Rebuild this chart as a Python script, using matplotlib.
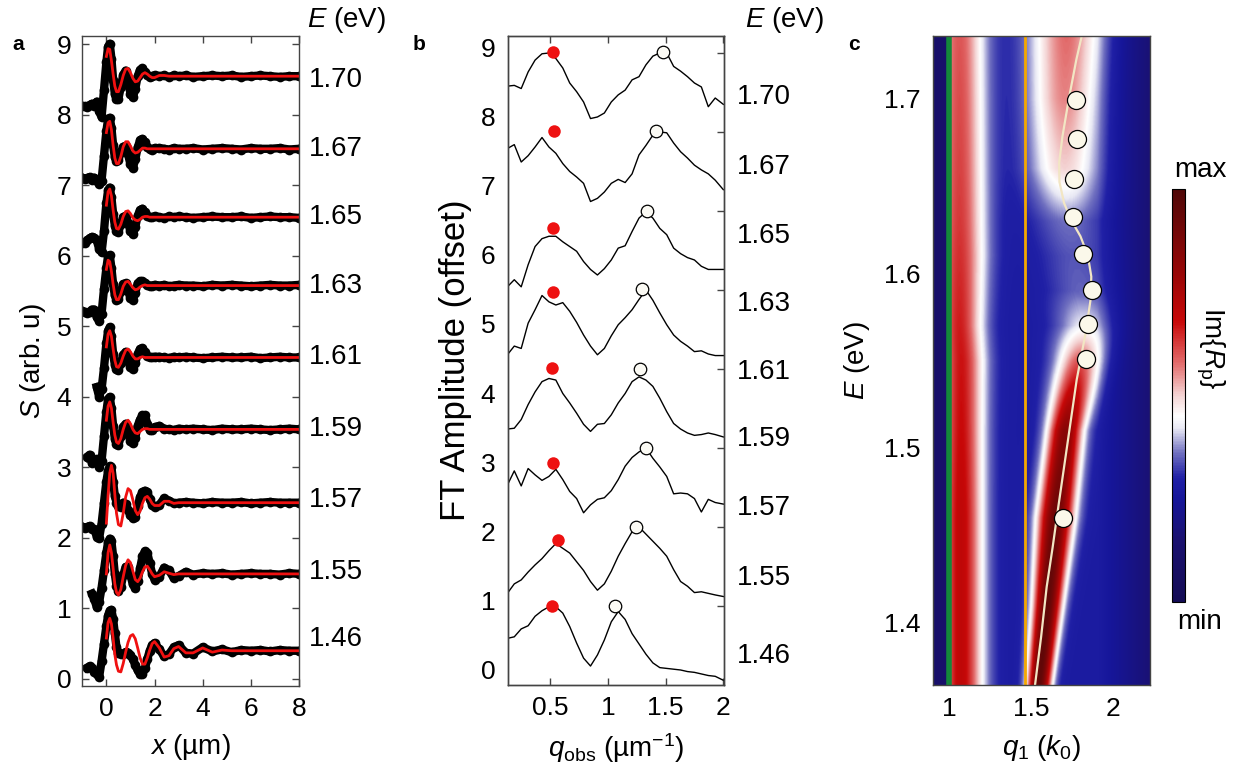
import numpy as np
import matplotlib
matplotlib.use('Agg')
import matplotlib.pyplot as plt
from matplotlib.colors import LinearSegmentedColormap

plt.rcParams['font.family'] = ['Liberation Sans', 'DejaVu Sans']
plt.rcParams['mathtext.fontset'] = 'custom'
plt.rcParams['mathtext.rm'] = 'Liberation Sans'
plt.rcParams['mathtext.it'] = 'Liberation Sans:italic'
plt.rcParams['mathtext.bf'] = 'Liberation Sans:bold'

nan = np.nan

# ---------------- panel a: near-field profiles (offset by energy) ----------------
E_LABELS = ['1.70', '1.67', '1.65', '1.63', '1.61', '1.59', '1.57', '1.55', '1.46']
A_OFFSETS = [8.55, 7.52, 6.55, 5.58, 4.56, 3.54, 2.50, 1.49, 0.40]

X_DATA = [-1.0, -0.9, -0.8, -0.7, -0.6, -0.5, -0.4, -0.3, -0.2, -0.1,
          0.0, 0.07, 0.14, 0.21, 0.28, 0.35, 0.42,
          0.5, 0.6, 0.7, 0.8, 0.9, 1.0, 1.1, 1.2, 1.3, 1.4, 1.5, 1.6, 1.7, 1.8, 1.9, 2.0,
          2.2, 2.4, 2.6, 2.8, 3.0, 3.3, 3.6, 4.0, 4.4, 4.8, 5.2, 5.6, 6.0, 6.4, 6.8, 7.2, 7.6, 8.0]
X_FIT = X_DATA[10:]

A_DATA_170 = [-0.42, -0.43, -0.44, -0.41, -0.39, -0.42, -0.36, -0.50, -0.58, -0.20,
              0.20, 0.42, 0.46, 0.25, -0.05, -0.25, -0.33,
              -0.32, -0.15, 0.02, 0.08, -0.05, -0.25, -0.30, -0.18, 0.00, 0.09, 0.11, 0.06, 0.02, -0.01, 0.00, 0.01,
              0.00, 0.01, -0.01, 0.01, 0.00, 0.01, -0.01, 0.00, 0.01, 0.00, 0.01, -0.01, 0.00, 0.01, 0.00, -0.01, 0.00, 0.00]
A_DATA_167 = [-0.41, -0.43, -0.42, -0.40, -0.44, -0.41, -0.45, -0.50, -0.45, -0.10,
              0.25, 0.42, 0.44, 0.30, 0.05, -0.12, -0.17,
              -0.16, -0.05, 0.03, 0.04, -0.08, -0.22, -0.27, -0.15, 0.02, 0.12, 0.14, 0.09, 0.03, 0.00, -0.01, 0.01,
              0.01, 0.00, -0.01, 0.01, 0.00, 0.00, 0.01, -0.01, 0.00, 0.01, 0.00, -0.01, 0.01, 0.00, 0.00, 0.01, -0.01, 0.00]
A_DATA_165 = [-0.37, -0.36, -0.33, -0.30, -0.28, -0.29, -0.33, -0.45, -0.50, -0.20,
              0.20, 0.38, 0.42, 0.28, 0.05, -0.12, -0.20,
              -0.21, -0.10, 0.00, 0.02, -0.08, -0.20, -0.24, -0.14, 0.02, 0.10, 0.12, 0.07, 0.02, 0.00, 0.00, 0.01,
              0.00, -0.01, 0.01, 0.00, 0.01, 0.00, -0.01, 0.00, 0.01, 0.00, 0.00, 0.01, -0.01, 0.00, 0.01, 0.00, 0.00, -0.01]
A_DATA_163 = [-0.36, -0.38, -0.39, -0.37, -0.34, -0.34, -0.45, -0.50, -0.40, -0.05,
              0.25, 0.42, 0.43, 0.25, 0.02, -0.14, -0.20,
              -0.19, -0.08, 0.02, 0.03, -0.07, -0.18, -0.20, -0.10, 0.03, 0.06, 0.06, 0.04, 0.01, 0.00, 0.00, 0.01,
              0.00, 0.01, -0.01, 0.00, 0.01, 0.00, 0.00, -0.01, 0.01, 0.00, 0.01, 0.00, -0.01, 0.00, 0.01, 0.00, 0.00, 0.01]
A_DATA_161 = [nan, nan, nan, nan, nan, nan, -0.42, -0.56, -0.45, -0.15,
              0.20, 0.38, 0.43, 0.30, 0.05, -0.10, -0.17,
              -0.18, -0.08, 0.04, 0.08, -0.02, -0.14, -0.16, -0.08, 0.05, 0.12, 0.13, 0.08, 0.02, 0.00, 0.00, 0.01,
              0.01, 0.00, -0.01, 0.01, 0.00, 0.01, 0.00, -0.01, 0.00, 0.01, 0.00, 0.00, 0.01, -0.01, 0.00, 0.01, 0.00, 0.00]
A_DATA_159 = [nan, nan, -0.39, -0.36, -0.48, -0.44, -0.42, -0.53, -0.45, -0.10,
              0.25, 0.43, 0.46, 0.30, 0.05, -0.13, -0.21,
              -0.22, -0.10, 0.04, 0.08, -0.03, -0.17, -0.20, -0.12, 0.05, 0.14, 0.20, 0.20, 0.08, -0.01, -0.01, 0.03,
              0.05, 0.01, 0.00, -0.01, 0.01, 0.00, 0.01, 0.00, -0.01, 0.01, 0.00, 0.00, 0.01, 0.00, -0.01, 0.00, 0.01, 0.00]
A_DATA_157 = [-0.34, -0.36, -0.35, -0.33, -0.37, -0.38, -0.48, -0.50, -0.30, 0.00,
              0.30, 0.45, 0.52, 0.50, 0.30, 0.10, 0.00,
              -0.05, -0.06, 0.00, -0.02, -0.10, -0.18, -0.22, -0.20, -0.05, 0.08, 0.15, 0.17, 0.15, 0.05, -0.03, -0.06,
              -0.03, 0.06, 0.03, -0.01, 0.00, 0.01, 0.00, -0.01, 0.01, 0.00, 0.00, 0.01, -0.01, 0.00, 0.01, 0.00, 0.00, 0.00]
A_DATA_155 = [nan, nan, nan, nan, -0.28, -0.36, -0.47, -0.40, -0.20, 0.05,
              0.30, 0.45, 0.50, 0.46, 0.25, 0.00, -0.17,
              -0.24, -0.18, -0.02, 0.10, 0.10, -0.02, -0.15, -0.20, -0.10, 0.08, 0.25, 0.32, 0.30, 0.15, 0.00, -0.08,
              -0.04, 0.09, 0.05, -0.06, -0.03, 0.03, -0.01, 0.01, 0.00, 0.01, -0.01, 0.00, 0.01, 0.00, 0.00, -0.01, 0.01, 0.00]
A_DATA_146 = [nan, nan, -0.24, -0.22, -0.25, -0.30, -0.33, -0.37, -0.15, 0.10,
              0.35, 0.50, 0.57, 0.58, 0.45, 0.25, 0.05,
              -0.03, -0.05, -0.04, -0.02, -0.03, -0.06, -0.12, -0.20, -0.28, -0.33, -0.33, -0.25, -0.12, 0.00, 0.08, 0.11,
              0.02, -0.08, -0.05, 0.05, 0.08, -0.03, -0.04, 0.05, -0.01, 0.02, -0.02, 0.01, 0.00, 0.01, -0.01, 0.01, 0.00, 0.00]

# fitted curves (red), flat after the listed values
A_FIT_170 = [0.28, 0.39, 0.38, 0.22, 0.03, -0.14, -0.22, -0.22, -0.12, 0.01, 0.10, 0.11, 0.05, -0.03,
             -0.08, -0.07, -0.02, 0.03, 0.05, 0.03, 0.00, -0.02, -0.02, 0.01, 0.01]
A_FIT_167 = [0.23, 0.37, 0.39, 0.27, 0.05, -0.13, -0.21, -0.21, -0.11, 0.03, 0.10, 0.10, 0.04, -0.03,
             -0.06, -0.05, -0.02, 0.01, 0.01]
A_FIT_165 = [0.17, 0.36, 0.40, 0.30, 0.10, -0.07, -0.16, -0.17, -0.10, 0.01, 0.08, 0.09, 0.05, -0.01,
             -0.04, -0.05, -0.03, 0.00, 0.01, 0.01]
A_FIT_163 = [0.23, 0.36, 0.34, 0.20, 0.02, -0.13, -0.20, -0.20, -0.12, -0.01, 0.05, 0.06, 0.02, -0.03,
             -0.06, -0.05, -0.02, 0.00, 0.01]
A_FIT_161 = [0.15, 0.33, 0.38, 0.30, 0.12, -0.04, -0.13, -0.14, -0.08, 0.02, 0.10, 0.12, 0.08, 0.02,
             -0.02, -0.02, 0.00, 0.01]
A_FIT_159 = [0.13, 0.33, 0.39, 0.30, 0.10, -0.08, -0.18, -0.20, -0.13, 0.00, 0.10, 0.13, 0.08, 0.00,
             -0.05, -0.06, -0.03, 0.00, 0.01, 0.01]
A_FIT_157 = [-0.29, 0.10, 0.42, 0.53, 0.42, 0.12, -0.15, -0.31, -0.33, -0.15, 0.08, 0.20, 0.17, 0.04,
             -0.11, -0.17, -0.12, -0.01, 0.07, 0.09, 0.05, -0.01, -0.04, -0.04, 0.02, 0.02, -0.01]
A_FIT_155 = [0.00, 0.30, 0.41, 0.30, 0.08, -0.14, -0.26, -0.30, -0.22, -0.04, 0.12, 0.20, 0.16, 0.04,
             -0.08, -0.11, -0.06, 0.03, 0.10, 0.11, 0.06, 0.00, -0.04, -0.02, 0.03, 0.01, -0.01]
A_FIT_146 = [0.18, 0.40, 0.46, 0.38, 0.18, -0.05, -0.20, -0.29, -0.30, -0.18, -0.02, 0.12, 0.21, 0.23,
             0.17, 0.04, -0.10, -0.19, -0.19, -0.10, 0.01, 0.10, 0.13, 0.04, -0.09, -0.07, 0.03, 0.06,
             -0.03, -0.03, 0.04, -0.02, 0.01]

A_DATA = [A_DATA_170, A_DATA_167, A_DATA_165, A_DATA_163, A_DATA_161,
          A_DATA_159, A_DATA_157, A_DATA_155, A_DATA_146]
A_FIT = [A_FIT_170, A_FIT_167, A_FIT_165, A_FIT_163, A_FIT_161,
         A_FIT_159, A_FIT_157, A_FIT_155, A_FIT_146]

# ---------------- panel b: Fourier transforms (offset) ----------------
Q_OBS = [0.13, 0.19, 0.25, 0.31, 0.37, 0.43, 0.49, 0.55, 0.61, 0.67, 0.73, 0.79, 0.85, 0.91, 0.97, 1.03,
         1.09, 1.15, 1.21, 1.27, 1.33, 1.39, 1.45, 1.51, 1.57, 1.63, 1.69, 1.75, 1.81, 1.87, 1.93, 2.00]
FT_1 = [7.58, 7.59, 7.55, 7.76, 7.91, 7.99, 8.00, 7.93, 7.81, 7.62, 7.51, 7.38, 7.17, 7.19, 7.24, 7.38,
        7.47, 7.53, 7.66, 7.70, 7.85, 7.96, 8.00, 8.00, 7.83, 7.77, 7.70, 7.62, 7.57, 7.32, 7.43, 7.35]
FT_2 = [6.79, 6.84, 6.62, 6.70, 6.81, 6.93, 6.81, 6.73, 6.60, 6.50, 6.43, 6.35, 6.12, 6.16, 6.24, 6.35,
        6.40, 6.36, 6.47, 6.71, 6.83, 6.96, 7.00, 6.99, 6.86, 6.75, 6.67, 6.58, 6.52, 6.47, 6.39, 6.27]
FT_3 = [5.04, 5.13, 5.04, 5.32, 5.55, 5.65, 5.68, 5.68, 5.61, 5.55, 5.49, 5.36, 5.26, 5.19, 5.27, 5.38,
        5.53, 5.56, 5.74, 5.91, 5.99, 5.91, 5.78, 5.70, 5.53, 5.46, 5.41, 5.38, 5.30, 5.26, 5.26, 5.26]
FT_4 = [4.18, 4.29, 4.26, 4.58, 4.75, 4.93, 4.85, 4.81, 4.84, 4.73, 4.59, 4.43, 4.29, 4.18, 4.26, 4.42,
        4.56, 4.65, 4.75, 4.88, 5.00, 4.87, 4.71, 4.56, 4.43, 4.35, 4.29, 4.22, 4.23, 4.19, 4.17, 4.17]
FT_5 = [3.24, 3.25, 3.36, 3.55, 3.71, 3.84, 3.88, 3.86, 3.69, 3.57, 3.44, 3.30, 3.21, 3.30, 3.31, 3.42,
        3.57, 3.69, 3.84, 3.90, 3.86, 3.78, 3.63, 3.46, 3.31, 3.24, 3.19, 3.16, 3.17, 3.19, 3.17, 3.14]
FT_6 = [2.53, 2.71, 2.52, 2.74, 2.66, 2.59, 2.64, 2.73, 2.60, 2.45, 2.36, 2.18, 2.28, 2.35, 2.37, 2.46,
        2.60, 2.77, 2.88, 2.95, 3.00, 2.87, 2.76, 2.64, 2.42, 2.43, 2.42, 2.36, 2.19, 2.35, 2.31, 2.29]
FT_7 = [1.16, 1.28, 1.33, 1.43, 1.52, 1.60, 1.70, 1.79, 1.73, 1.67, 1.56, 1.45, 1.31, 1.20, 1.28, 1.44,
        1.63, 1.79, 1.94, 2.00, 1.91, 1.82, 1.73, 1.63, 1.46, 1.31, 1.25, 1.17, 1.18, 1.16, 1.14, 1.12]
FT_8 = [0.59, 0.61, 0.71, 0.75, 0.87, 0.94, 0.99, 0.99, 0.91, 0.74, 0.53, 0.34, 0.24, 0.38, 0.57, 0.80,
        0.93, 0.83, 0.65, 0.52, 0.39, 0.28, 0.22, 0.21, 0.20, 0.19, 0.17, 0.16, 0.14, 0.12, 0.11, 0.06]
FT_CURVES = [FT_1, FT_2, FT_3, FT_4, FT_5, FT_6, FT_7, FT_8]

RED_Q = [0.526, 0.535, 0.523, 0.523, 0.520, 0.529, 0.572, 0.514]
RED_A = [8.01, 7.01, 5.78, 4.97, 4.01, 2.81, 1.835, 1.00]
OPEN_Q = [1.480, 1.415, 1.337, 1.294, 1.280, 1.328, 1.245, 1.063]
OPEN_A = [8.01, 7.01, 6.00, 5.01, 4.00, 3.00, 2.00, 1.00]

# ---------------- panel c: Im{R_p} map ----------------
CIRC_Q = [1.773, 1.776, 1.762, 1.752, 1.817, 1.872, 1.844, 1.834, 1.691]
CIRC_E = [1.699, 1.6765, 1.6538, 1.6319, 1.6109, 1.5903, 1.5709, 1.5507, 1.4597]

DISP_Q = [1.523, 1.560, 1.594, 1.630, 1.665, 1.720, 1.777, 1.830, 1.862, 1.866,
          1.845, 1.800, 1.745, 1.700, 1.672, 1.670, 1.690, 1.730, 1.775, 1.808]
DISP_E = [1.3645, 1.392, 1.4206, 1.443, 1.4664, 1.502, 1.539, 1.565, 1.585, 1.598,
          1.610, 1.621, 1.630, 1.640, 1.652, 1.663, 1.678, 1.700, 1.722, 1.7355]

# ridge parameters read along energy
E_NODES = [1.3645, 1.41, 1.46, 1.51, 1.55, 1.57, 1.59, 1.61, 1.63, 1.66, 1.70, 1.7355]
A_CENTER = [1.07, 1.07, 1.07, 1.07, 1.07, 1.06, 1.06, 1.06, 1.06, 1.06, 1.06, 1.06]
A_PEAK = [0.70, 0.70, 0.70, 0.68, 0.67, 0.66, 0.65, 0.64, 0.63, 0.62, 0.61, 0.60]
A_WIDTH = [0.095, 0.095, 0.095, 0.097, 0.10, 0.10, 0.105, 0.11, 0.11, 0.11, 0.11, 0.11]
B_CENTER = [1.545, 1.595, 1.645, 1.705, 1.79, 1.82, 1.80, 1.76, 1.72, 1.70, 1.70, 1.71]
B_PEAK = [0.95, 0.95, 0.92, 0.84, 0.60, 0.43, 0.35, 0.34, 0.36, 0.50, 0.56, 0.58]
B_WIDTH = [0.05, 0.06, 0.075, 0.075, 0.10, 0.12, 0.14, 0.15, 0.15, 0.15, 0.15, 0.155]
LIGHT_LINE = 1.0
SUBSTRATE_LINE = 1.46

cmap = LinearSegmentedColormap.from_list('imrp', [
    (0.00, '#140c55'), (0.15, '#1a1170'), (0.25, '#16169a'), (0.30, '#2020a6'),
    (0.36, '#7070c0'), (0.42, '#e8e8f4'), (0.45, '#ffffff'), (0.50, '#f4d4d4'),
    (0.58, '#e26a6a'), (0.68, '#c80808'), (0.80, '#960606'), (1.00, '#500808')])

# ---------------- figure ----------------
fig = plt.figure(figsize=(12.38, 7.67), dpi=100)
W, H = 1238.0, 767.0
SPINE = '#444444'
TICK_FS = 19
LAB_FS = 20


def style_spines(ax):
    for s in ax.spines.values():
        s.set_color(SPINE)
        s.set_linewidth(1.0)


# panel a
ax_a = fig.add_axes([82.3 / W, 1 - 686 / H, 216.7 / W, 650 / H])
for off, dat in zip(A_OFFSETS, A_DATA):
    ax_a.plot(X_DATA, np.array(dat) + off, 'o-', color='k', lw=6.0, ms=7, mew=0)
for off, fit in zip(A_OFFSETS, A_FIT):
    full = fit + [0.0] * (len(X_FIT) - len(fit))
    ax_a.plot(X_FIT, np.array(full) + off, color='#f01010', lw=2.0)
ax_a.set_xlim(-1, 8)
ax_a.set_ylim(-0.1, 9.12)
ax_a.set_xticks([0, 2, 4, 6, 8])
ax_a.set_yticks(range(10))
ax_a.tick_params(direction='in', top=True, right=True, length=5, width=1, color=SPINE,
                 labelsize=TICK_FS, pad=8)
style_spines(ax_a)
ax_a.set_xlabel(r'$x$ (µm)', fontsize=LAB_FS, labelpad=8)
ax_a.set_ylabel(r'$S$ (arb. u)', fontsize=LAB_FS, labelpad=6)
A_LABEL_Y = [8.50, 7.52, 6.55, 5.57, 4.57, 3.55, 2.54, 1.52, 0.56]
for lab, yy in zip(E_LABELS, A_LABEL_Y):
    ax_a.text(1.045, yy, lab, transform=ax_a.get_yaxis_transform(), fontsize=20,
              va='center', ha='left')
fig.text(307 / W, 1 - 20 / H, r'$E$ (eV)', fontsize=20, va='center', ha='left')
fig.text(12 / W, 1 - 44 / H, 'a', fontsize=15, fontweight='bold', va='center', ha='left')

# panel b
ax_b = fig.add_axes([507.7 / W, 1 - 685 / H, 216.3 / W, 649 / H])
for curve in FT_CURVES:
    ax_b.plot(Q_OBS, curve, color='k', lw=1.0)
ax_b.plot(RED_Q, RED_A, 'o', color='#ee1111', ms=9, mew=0, zorder=5)
ax_b.plot(OPEN_Q, OPEN_A, 'o', mfc='#fbfaf4', mec='k', mew=0.9, ms=9, zorder=5)
ax_b.set_xlim(0.133, 2.006)
ax_b.set_ylim(0, 8.215)
ax_b.set_xticks([0.5, 1, 1.5, 2])
ax_b.set_xticklabels(['0.5', '1', '1.5', '2'])
label_pos = [(15 + 69.2 * k) / 79.0 for k in range(10)]
ax_b.set_yticks(label_pos)
ax_b.set_yticklabels([str(k) for k in range(10)])
ax_b.tick_params(axis='y', length=0, labelsize=TICK_FS, pad=9)
ax_b.tick_params(axis='x', direction='in', top=True, length=5, width=1, color=SPINE,
                 labelsize=TICK_FS, pad=8)
ax_b2 = ax_b.twinx()
ax_b2.set_ylim(0, 8.215)
ax_b2.set_yticks(range(1, 9))
ax_b2.tick_params(axis='y', direction='in', length=5, width=1, color=SPINE, labelright=False)
style_spines(ax_b)
style_spines(ax_b2)
ax_b.set_xlabel(r'$q_{\rm obs}$ (µm$^{-1}$)', fontsize=LAB_FS, labelpad=8)
ax_b.set_ylabel('FT Amplitude (offset)', fontsize=25, labelpad=6)
B_LABEL_Y = [7.44, 6.56, 5.68, 4.82, 3.96, 3.11, 2.24, 1.35, 0.37]
for lab, yy in zip(E_LABELS, B_LABEL_Y):
    ax_b.text(1.06, yy, lab, transform=ax_b.get_yaxis_transform(), fontsize=20,
              va='center', ha='left')
fig.text(745 / W, 1 - 20 / H, r'$E$ (eV)', fontsize=20, va='center', ha='left')
fig.text(413 / W, 1 - 44 / H, 'b', fontsize=15, fontweight='bold', va='center', ha='left')

# panel c
ax_c = fig.add_axes([932.7 / W, 1 - 685 / H, 217.3 / W, 649 / H])
q_lo, q_hi, e_lo, e_hi = 0.899, 2.224, 1.3645, 1.7355
qq = np.linspace(q_lo, q_hi, 700)
ee = np.linspace(e_lo, e_hi, 400)
QQ, EE = np.meshgrid(qq, ee)


def along(vals):
    return np.interp(EE, E_NODES, vals)


base = 0.28 - 0.12 * np.clip((QQ - 1.9) / 0.32, 0, 1)
ridge_a = (along(A_PEAK) - 0.28) * np.exp(-0.5 * ((QQ - along(A_CENTER)) / along(A_WIDTH)) ** 2)
ridge_b = (along(B_PEAK) - 0.28) * np.exp(-0.5 * ((QQ - along(B_CENTER)) / along(B_WIDTH)) ** 2)
field = base + ridge_a + ridge_b
field[QQ < LIGHT_LINE] = 0.12
im = ax_c.imshow(field, origin='lower', aspect='auto', cmap=cmap, vmin=0, vmax=1,
                 extent=[q_lo, q_hi, e_lo, e_hi], interpolation='bilinear')
ax_c.axvline(LIGHT_LINE, color='#14883a', lw=4)
ax_c.axvline(SUBSTRATE_LINE, color='#f5a800', lw=2)
ax_c.plot(DISP_Q, DISP_E, color='#f2e6c4', lw=1.6)
ax_c.plot(CIRC_Q, CIRC_E, 'o', mfc='#fbf8ea', mec='k', mew=0.9, ms=13, zorder=5)
ax_c.set_xlim(q_lo, q_hi)
ax_c.set_ylim(e_lo, e_hi)
ax_c.set_xticks([1, 1.5, 2])
ax_c.set_xticklabels(['1', '1.5', '2'])
ax_c.set_yticks([1.4, 1.5, 1.6, 1.7])
ax_c.tick_params(length=0, labelsize=TICK_FS, pad=9)
style_spines(ax_c)
ax_c.set_xlabel(r'$q_1$ ($k_0$)', fontsize=LAB_FS, labelpad=8)
ax_c.set_ylabel(r'$E$ (eV)', fontsize=LAB_FS, labelpad=8)
fig.text(848 / W, 1 - 44 / H, 'c', fontsize=15, fontweight='bold', va='center', ha='left')

cax = fig.add_axes([1171.7 / W, 1 - 601.7 / H, 13.3 / W, 412.4 / H])
cb = fig.colorbar(im, cax=cax)
cb.set_ticks([])
cb.outline.set_linewidth(0.8)
fig.text(1200 / W, 1 - 170 / H, 'max', fontsize=20, va='center', ha='center')
fig.text(1200 / W, 1 - 622 / H, 'min', fontsize=20, va='center', ha='center')
fig.text(1210 / W, 1 - 348 / H, r'Im{$R_{\rm p}$}', fontsize=20, rotation=270,
         va='center', ha='center')

fig.savefig('out.png', dpi=100)
